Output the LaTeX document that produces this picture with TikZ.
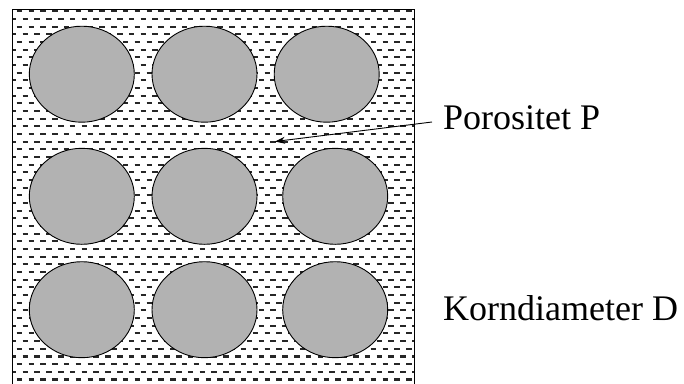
\documentclass[tikz,border=0pt]{standalone}
\usepackage{fontspec}
\setmainfont{Liberation Serif}
\newfontfamily\tnrfont{Liberation Serif}
\usetikzlibrary{shapes.geometric,arrows.meta}
\tikzset{
  grain/.style={ellipse, draw=black, line width=0.9pt, fill=black!30, minimum width=105pt, minimum height=96pt, inner sep=0pt},
  hatch/.style={line width=2.1pt, draw=black!85, dash pattern=on 5.5pt off 6.3pt},
  frame/.style={line width=1pt, draw=black},
  lbl/.style={anchor=base west, inner sep=0pt, font=\tnrfont\fontsize{36}{40}\selectfont},
  pointer/.style={line width=0.9pt, -{Stealth[length=10pt,width=7pt]}}
}
\begin{document}
\begin{tikzpicture}[x=1pt,y=-1pt]
\useasboundingbox (0,0) rectangle (684,383);
\fill[white] (0,0) rectangle (684,383);
% hatched pore space
\begin{scope}
  \clip (12.3,9.3) rectangle (414,383);
  \foreach \j in {0,...,49}{
    \pgfmathsetmacro{\yy}{11.3+7.67*\j}
    \pgfmathsetmacro{\xx}{ifthenelse(mod(\j,2)==0,4.9,-1)}
    \draw[hatch] (\xx,\yy) -- (420,\yy);
  }
\end{scope}
\draw[frame] (12.3,390) -- (12.3,9.3) -- (414,9.3) -- (414,390);
% grains
\node[grain] (g11) at (81.8,74.2) {};
\node[grain] (g12) at (204.5,74.2) {};
\node[grain] (g13) at (326.7,74.2) {};
\node[grain] (g21) at (81.8,196.3) {};
\node[grain] (g22) at (204.5,196.3) {};
\node[grain] (g23) at (335.2,196.3) {};
\node[grain] (g31) at (81.8,309.7) {};
\node[grain] (g32) at (204.5,309.7) {};
\node[grain] (g33) at (335.2,309.7) {};
% labels
\node[lbl] (porP) at (443,129) {Porositet P};
\node[lbl] (kornD) at (443,320) {Korndiameter D};
\coordinate (pstart) at (432,122);
\coordinate (pend) at (275,141.5);
\draw[pointer] (pstart) -- (pend);
\end{tikzpicture}
\end{document}
